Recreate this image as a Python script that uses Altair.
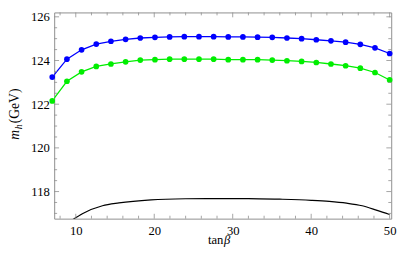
import altair as alt
import pandas as pd

# ---- data ----
tanb_pts = [7.0, 8.87, 10.74, 12.61, 14.48, 16.35, 18.22, 20.09, 21.96, 23.83, 25.70, 27.57,
            29.43, 31.30, 33.17, 35.04, 36.91, 38.78, 40.65, 42.52, 44.39, 46.26, 48.13, 50.0]
mh_blue = [123.24, 124.06, 124.49, 124.75, 124.88, 124.97, 125.03, 125.06, 125.08, 125.09, 125.09, 125.09,
           125.08, 125.08, 125.07, 125.06, 125.03, 125.00, 124.95, 124.90, 124.84, 124.74, 124.58, 124.32]
mh_green = [122.15, 123.05, 123.48, 123.73, 123.84, 123.94, 124.02, 124.04, 124.06, 124.06, 124.06, 124.06,
            124.04, 124.04, 124.04, 124.02, 123.99, 123.96, 123.91, 123.84, 123.76, 123.65, 123.45, 123.11]
tanb_black = [9.55, 10.9, 13.4, 15.5, 19.6, 24.0, 28.0, 32.0, 36.0, 40.0, 42.3, 44.5, 46.5, 48.4, 50.0]
mh_black = [116.70, 117.00, 117.35, 117.48, 117.62, 117.67, 117.68, 117.68, 117.65, 117.60,
            117.55, 117.47, 117.35, 117.14, 116.95]

x_major = [10, 20, 30, 40, 50]
x_minor = [8, 12, 14, 16, 18, 22, 24, 26, 28, 32, 34, 36, 38, 42, 44, 46, 48]
y_major = [118, 120, 122, 124, 126]
y_minor = [117, 117.5, 118.5, 119, 119.5, 120.5, 121, 121.5, 122.5, 123, 123.5,
           124.5, 125, 125.5]

X_DOM = [7.25, 50.2]
Y_DOM = [116.76, 126.2]
W, H = 346.5, 212
FRAME = "#8c8c8c"
FONT = "Times New Roman, Liberation Serif, DejaVu Serif, serif"
BLUE = "#0000ff"
GREEN = "#00ee00"

xs = alt.Scale(domain=X_DOM, nice=False, zero=False)
ys = alt.Scale(domain=Y_DOM, nice=False, zero=False)
xax = alt.Axis(values=x_major, format="d", title=None, labelPadding=6)
yax = alt.Axis(values=y_major, format="d", title=None, labelPadding=5)


def X(field):
    return alt.X(f"{field}:Q", scale=xs, axis=xax)


def Y(field):
    return alt.Y(f"{field}:Q", scale=ys, axis=yax)


df_blue = pd.DataFrame({"tanb": tanb_pts, "mh": mh_blue})
df_green = pd.DataFrame({"tanb": tanb_pts, "mh": mh_green})
df_black = pd.DataFrame({"tanb": tanb_black, "mh": mh_black})

layers = []
for df, col in [(df_green, GREEN), (df_blue, BLUE)]:
    layers.append(alt.Chart(df).mark_line(color=col, strokeWidth=1.3, clip=True)
                  .encode(x=X("tanb"), y=Y("mh")))
    layers.append(alt.Chart(df).mark_circle(color=col, size=34, opacity=1)
                  .encode(x=X("tanb"), y=Y("mh")))
layers.append(alt.Chart(df_black).mark_line(color="black", strokeWidth=1.2, clip=True,
                                            interpolate="monotone")
              .encode(x=X("tanb"), y=Y("mh")))

# frame ticks (inward, on all four sides)
for vals, ln in [(x_major, 5), (x_minor, 3)]:
    d = pd.DataFrame({"v": vals})
    layers.append(alt.Chart(d).mark_rule(color=FRAME, strokeWidth=0.8)
                  .encode(x=X("v"), y=alt.value(H), y2=alt.value(H - ln)))
    layers.append(alt.Chart(d).mark_rule(color=FRAME, strokeWidth=0.8)
                  .encode(x=X("v"), y=alt.value(0), y2=alt.value(ln)))
for vals, ln in [(y_major, 5), (y_minor, 3)]:
    d = pd.DataFrame({"v": vals})
    layers.append(alt.Chart(d).mark_rule(color=FRAME, strokeWidth=0.8)
                  .encode(y=Y("v"), x=alt.value(0), x2=alt.value(ln)))
    layers.append(alt.Chart(d).mark_rule(color=FRAME, strokeWidth=0.8)
                  .encode(y=Y("v"), x=alt.value(W), x2=alt.value(W - ln)))

# axis titles
t = pd.DataFrame({"a": [0]})


def txt(s, x, y, size, style="normal", align="left", angle=0):
    return alt.Chart(t).mark_text(text=s, font=FONT, fontSize=size, fontStyle=style,
                                  align=align, baseline="alphabetic", angle=angle,
                                  color="black").encode(x=alt.value(x), y=alt.value(y))


layers.append(txt("tan", 174, 238.5, 13, align="right"))
layers.append(txt("β", 174.5, 238.5, 13, style="italic"))
layers.append(txt("m", -36, 131, 14, style="italic", angle=270))
layers.append(txt("h", -33, 120, 10, style="italic", angle=270))
layers.append(txt("(GeV)", -36, 114, 14, angle=270))

chart = alt.layer(*layers).properties(
    width=W, height=H,
    autosize=alt.AutoSizeParams(type="none"),
    padding={"left": 47.5, "top": 1, "right": 8, "bottom": 41},
).configure_view(stroke=FRAME, strokeWidth=1).configure_axis(
    domain=False, ticks=False, tickSize=0, grid=False,
    labelFont=FONT, labelFontSize=13, labelColor="black",
)

chart.save("out.html", embed_options={"renderer": "svg", "actions": False})
